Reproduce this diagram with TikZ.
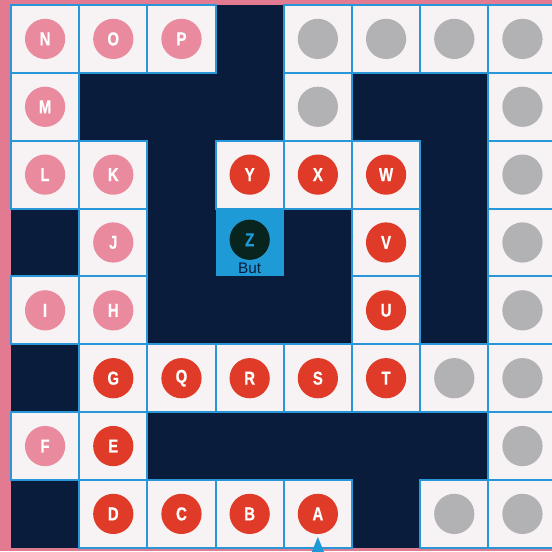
\documentclass[tikz,border=0pt]{standalone}
\usepackage{fontspec}
\setsansfont{Liberation Sans}
\newfontfamily\dotfont{Liberation Sans Bold}[FakeStretch=0.8,FakeBold=0.6]
\usetikzlibrary{positioning}

\definecolor{mazenavy}{RGB}{10,28,60}
\definecolor{mazepink}{RGB}{226,122,146}
\definecolor{mazeline}{RGB}{40,150,215}
\definecolor{cellwhite}{RGB}{247,243,244}
\definecolor{dotpink}{RGB}{234,138,158}
\definecolor{dotred}{RGB}{224,58,40}
\definecolor{dotgray}{RGB}{178,178,180}
\definecolor{goalblue}{RGB}{30,155,215}
\definecolor{goaldark}{RGB}{8,36,30}

\tikzset{
  opencell/.style={fill=cellwhite, draw=mazeline, line width=0.8pt},
  mazedot/.style={circle, minimum size=0.59cm, inner sep=0pt, text=white,
    font=\dotfont\fontsize{7.8}{8}\selectfont},
  pinkdot/.style={mazedot, fill=dotpink},
  reddot/.style={mazedot, fill=dotred},
  graydot/.style={mazedot, fill=dotgray},
  goaldot/.style={mazedot, fill=goaldark, text=goalblue}
}

\begin{document}
\begin{tikzpicture}[x=1cm,y=0.995cm]
  \useasboundingbox (0,0) rectangle (8.094cm,-8.08cm);
  \clip (0,0) rectangle (8.094cm,-8.08cm);

  % pink page behind the board
  \fill[mazepink] (0,0) rectangle (8.094cm,-8.08cm);

  \begin{scope}[shift={(0.161cm,-0.073cm)}]
    % walls
    \fill[mazenavy] (0,0) rectangle (8,-8);

    % open cells of the path
    \foreach \c/\r in {0/0,1/0,2/0,4/0,5/0,6/0,7/0,
                       0/1,4/1,7/1,
                       0/2,1/2,3/2,4/2,5/2,7/2,
                       1/3,5/3,7/3,
                       0/4,1/4,5/4,7/4,
                       1/5,2/5,3/5,4/5,5/5,6/5,7/5,
                       0/6,1/6,7/6,
                       1/7,2/7,3/7,4/7,6/7,7/7}
      \draw[opencell] (\c,-\r) rectangle (\c+1,-\r-1);

    % goal cell
    \fill[goalblue] (3,-3) rectangle (4,-4);

    % pink dots
    \foreach \c/\r/\l in {0/0/N,1/0/O,2/0/P,0/1/M,0/2/L,1/2/K,1/3/J,0/4/I,1/4/H,0/6/F}
      \node[pinkdot] (\l) at (\c+0.5,-\r-0.5) {\l};

    % red dots
    \foreach \c/\r/\l in {3/2/Y,4/2/X,5/2/W,5/3/V,5/4/U,1/5/G,2/5/Q,3/5/R,4/5/S,5/5/T,
                          1/6/E,1/7/D,2/7/C,3/7/B,4/7/A}
      \node[reddot] (\l) at (\c+0.5,-\r-0.5) {\l};

    % gray dots
    \foreach \c/\r in {4/0,5/0,6/0,7/0,4/1,7/1,7/2,7/3,7/4,6/5,7/5,7/6,6/7,7/7}
      \node[graydot] (g\c\r) at (\c+0.5,-\r-0.5) {};

    % goal
    \node[goaldot] (Z) at (3.5,-3.46) {Z};
    \node[below=0.03cm of Z, inner sep=0pt, text=mazenavy,
      font=\sffamily\fontsize{6.4}{7}\selectfont] (but) {But};

    % start marker below A
    \fill[goalblue] (4.5,-7.84) -- (4.59,-8.06) -- (4.41,-8.06) -- cycle;
  \end{scope}
\end{tikzpicture}
\end{document}
